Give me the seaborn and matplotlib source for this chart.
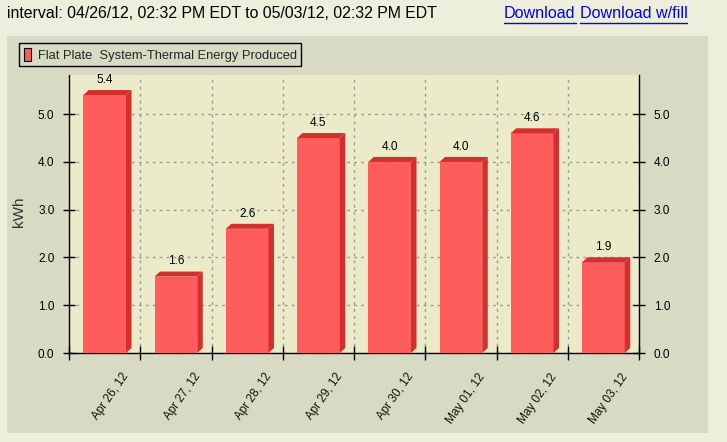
import matplotlib
matplotlib.use("Agg")
import matplotlib.pyplot as plt
import matplotlib.transforms as mtransforms
from matplotlib.patches import Polygon, Rectangle, Patch
from matplotlib.lines import Line2D
import seaborn as sns
import pandas as pd

dates = ["Apr 26, 12", "Apr 27, 12", "Apr 28, 12", "Apr 29, 12",
         "Apr 30, 12", "May 01, 12", "May 02, 12", "May 03, 12"]
energy = [5.4, 1.6, 2.6, 4.5, 4.0, 4.0, 4.6, 1.9]
series_name = "Flat Plate  System-Thermal Energy Produced"
y_ticks = [0.0, 1.0, 2.0, 3.0, 4.0, 5.0]

outer_bg = "#eeeedd"
panel_bg = "#d9dac3"
plot_bg = "#ebebc9"
bar_front = "#ff5c5c"
bar_side = "#d32f2f"

sns.set_theme(style="white")
plt.rcParams["font.family"] = ["Liberation Sans", "DejaVu Sans"]

W, H = 727, 442
fig = plt.figure(figsize=(W / 100, H / 100), dpi=100, facecolor=outer_bg)

# grey chart panel
fig.patches.append(Rectangle((7 / W, 1 - 433 / H), (708 - 7) / W, (433 - 36) / H,
                             transform=fig.transFigure, facecolor=panel_bg,
                             edgecolor="none", zorder=-1))

ax = fig.add_axes([69 / W, 1 - 353 / H, (639 - 69) / W, (353 - 75) / H])
ax.set_facecolor(plot_bg)

df = pd.DataFrame({"date": dates, "kwh": energy})
sns.barplot(data=df, x="date", y="kwh", color=bar_front, saturation=1,
            width=0.6, linewidth=0, edgecolor=bar_front, ax=ax, zorder=3)

ax.set_xlim(-0.5, len(dates) - 0.5)
ax.set_ylim(0, 5.82)

# 3-D look: side and top faces, offset in pixels
fig.canvas.draw()
bb = ax.get_window_extent()
ppx = bb.width / len(dates)
ppy = bb.height / 5.82
dx = 5.5 / ppx
dy = 5 / ppy
for p, v in zip(ax.patches, energy):
    x0 = p.get_x()
    w = p.get_width()
    side = Polygon([(x0 + w, 0), (x0 + w, v), (x0 + w + dx, v + dy), (x0 + w + dx, dy)],
                   closed=True, facecolor=bar_side, edgecolor="none", zorder=3)
    top = Polygon([(x0, v), (x0 + dx, v + dy), (x0 + w + dx, v + dy), (x0 + w, v)],
                  closed=True, facecolor=bar_side, edgecolor="none", zorder=3)
    ax.add_patch(side)
    ax.add_patch(top)
    ax.annotate(f"{v:.1f}", (x0 + w / 2, v + dy), xytext=(0, 3),
                textcoords="offset points", ha="center", va="bottom",
                fontsize=8.5, color="black", zorder=4)

# ticks and grid
ax.set_xticks(range(len(dates)))
ax.set_xticklabels(dates)
ax.set_xticks([i - 0.5 for i in range(len(dates) + 1)], minor=True)
ax.set_yticks(y_ticks)
ax.set_yticklabels([f"{t:.1f}" for t in y_ticks])
ax.tick_params(axis="x", which="major", length=0, pad=13, labelsize=8.5, colors="#111111")
ax.tick_params(axis="x", which="minor", direction="inout", length=10, width=1,
               color="black", bottom=True)
ax.tick_params(axis="y", direction="inout", length=9, width=1, color="black",
               left=True, right=True, labelleft=True, labelright=True,
               labelsize=8.5, pad=6, labelcolor="black")
ax.grid(which="minor", axis="x", color="#999999", linestyle=(0, (2, 3)), linewidth=1, zorder=1)
ax.grid(which="major", axis="y", color="#999999", linestyle=(0, (2, 3)), linewidth=1, zorder=1)
ax.set_axisbelow(True)

offset = mtransforms.ScaledTranslation(17 / 100, 0, fig.dpi_scale_trans)
for lab in ax.get_xticklabels():
    lab.set_rotation(55)
    lab.set_ha("right")
    lab.set_va("top")
    lab.set_rotation_mode("anchor")
    lab.set_transform(lab.get_transform() + offset)

for s in ["left", "right", "bottom"]:
    ax.spines[s].set_color("black")
    ax.spines[s].set_linewidth(1)
    ax.spines[s].set_visible(True)
ax.spines["top"].set_visible(False)

ax.set_xlabel("")
ax.set_ylabel("")
fig.text(19 / W, 1 - 212 / H, "kWh", rotation=90, ha="center", va="center",
         fontsize=11, color="#333333")

# legend
handle = Patch(facecolor=bar_front, edgecolor="black", linewidth=0.8)
leg = fig.legend([handle], [series_name], loc="upper left",
                 bbox_to_anchor=(19 / W, 1 - 43 / H), borderaxespad=0, fontsize=9.3,
                 handlelength=0.55, handleheight=1.2, handletextpad=0.55,
                 borderpad=0.35, fancybox=False, framealpha=1)
leg.get_frame().set_facecolor(panel_bg)
leg.get_frame().set_edgecolor("black")
leg.get_frame().set_linewidth(1)

# header line
fig.text(7 / W, 1 - 14 / H, "interval: 04/26/12, 02:32 PM EDT to 05/03/12, 02:32 PM EDT",
         ha="left", va="center", fontsize=11.4, color="black")
fig.text(504 / W, 1 - 14 / H, "Download", ha="left", va="center", fontsize=11.6, color="#0000ee")
fig.text(580 / W, 1 - 14 / H, "Download w/fill", ha="left", va="center", fontsize=11.6, color="#0000ee")
fig.add_artist(Line2D([504 / W, 576 / W], [1 - 23 / H, 1 - 23 / H], color="#0000ee", linewidth=1))
fig.add_artist(Line2D([580 / W, 687 / W], [1 - 23 / H, 1 - 23 / H], color="#0000ee", linewidth=1))

fig.savefig("out.png", dpi=100, facecolor=fig.get_facecolor())
